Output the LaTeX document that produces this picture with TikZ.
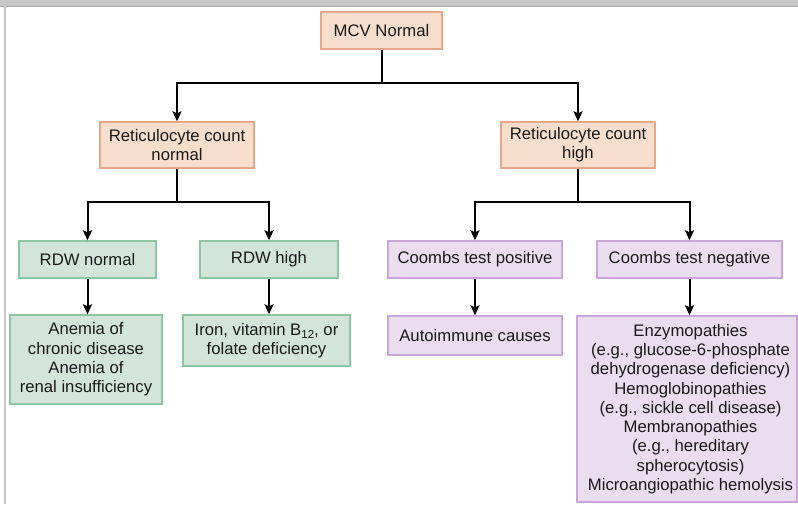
\documentclass[tikz,border=0pt]{standalone}
\usepackage{fontspec}
\setmainfont{Liberation Sans}
\usetikzlibrary{arrows.meta}
\definecolor{pfill}{HTML}{F6DDCC}
\definecolor{pdraw}{HTML}{E6A88C}
\definecolor{gfill}{HTML}{D3E5D9}
\definecolor{gdraw}{HTML}{8EC5A4}
\definecolor{vfill}{HTML}{E9DDEF}
\definecolor{vdraw}{HTML}{C9A7D7}
\definecolor{txt}{HTML}{1A1A1A}
\definecolor{frame}{HTML}{C8C8C8}
\begin{document}
\begin{tikzpicture}[x=1pt,y=-1pt,
  font=\fontsize{16.7}{19.3}\selectfont,
  box/.style={rectangle, line width=1.4pt, align=center, inner sep=0pt, text=txt},
  peach/.style={box, fill=pfill, draw=pdraw},
  green/.style={box, fill=gfill, draw=gdraw},
  violet/.style={box, fill=vfill, draw=vdraw},
  arr/.style={line width=2pt, -{Stealth[length=10pt,width=9pt,inset=2pt]}, line join=miter}
]
\useasboundingbox (0,0) rectangle (798,504);
\fill[white] (0,0) rectangle (798,504);
% frame
\fill[frame] (0,0) rectangle (798,6);
\draw[color=frame!85!black, line width=0.6pt] (0,6) -- (798,6);
\fill[frame] (4,6) rectangle (6,504);

% nodes
\node[peach, minimum width=121pt, minimum height=37pt] (mcv) at (381.5,30.5) {MCV Normal};
\node[peach, minimum width=154pt, minimum height=46pt] (retn) at (177,145) {Reticulocyte count\\normal};
\node[peach, minimum width=154pt, minimum height=46pt] (reth) at (578,145) {Reticulocyte count\\high};

\node[green, minimum width=137pt, minimum height=37pt] (rdwn) at (87.5,259.5) {RDW normal};
\node[green, minimum width=138pt, minimum height=37pt] (rdwh) at (269,259.5) {RDW high};
\node[violet, minimum width=174pt, minimum height=37pt] (cpos) at (475,259.5) {Coombs test positive};
\node[violet, minimum width=185pt, minimum height=37pt] (cneg) at (689.5,259.5) {Coombs test negative};

\node[green, minimum width=152pt, minimum height=89pt] (anem) at (86,359.5) {Anemia of\\chronic disease\\Anemia of\\renal insufficiency};
\node[green, minimum width=167pt, minimum height=51pt] (iron) at (266.5,340.5) {Iron, vitamin B\raisebox{-0.35ex}{\fontsize{11.5}{12}\selectfont 12}, or\\folate deficiency};
\node[violet, minimum width=174pt, minimum height=39pt] (auto) at (475,335.5) {Autoimmune causes};
\node[violet, minimum width=220pt, minimum height=186pt] (enz) at (687,409) {};
\node[align=center, text=txt, inner sep=0pt] (enzt) at (690.5,409) {Enzymopathies\\(e.g., glucose-6-phosphate\\dehydrogenase deficiency)\\Hemoglobinopathies\\(e.g., sickle cell disease)\\Membranopathies\\(e.g., hereditary\\spherocytosis)\\Microangiopathic hemolysis};

% connectors
\draw[arr] (mcv.south) -- ++(0,33) -| (retn.north);
\draw[arr] (mcv.south) -- ++(0,33) -| (reth.north);
\draw[arr] (retn.south) -- ++(0,33) -| (rdwn.north);
\draw[arr] (retn.south) -- ++(0,33) -| (rdwh.north);
\draw[arr] (reth.south) -- ++(0,33) -| (cpos.north);
\draw[arr] (reth.south) -- ++(0,33) -| (cneg.north);
\draw[arr] (rdwn.south) -- (rdwn.south |- anem.north);
\draw[arr] (rdwh.south) -- (rdwh.south |- iron.north);
\draw[arr] (cpos.south) -- (cpos.south |- auto.north);
\draw[arr] (cneg.south) -- (cneg.south |- enz.north);
\end{tikzpicture}
\end{document}
